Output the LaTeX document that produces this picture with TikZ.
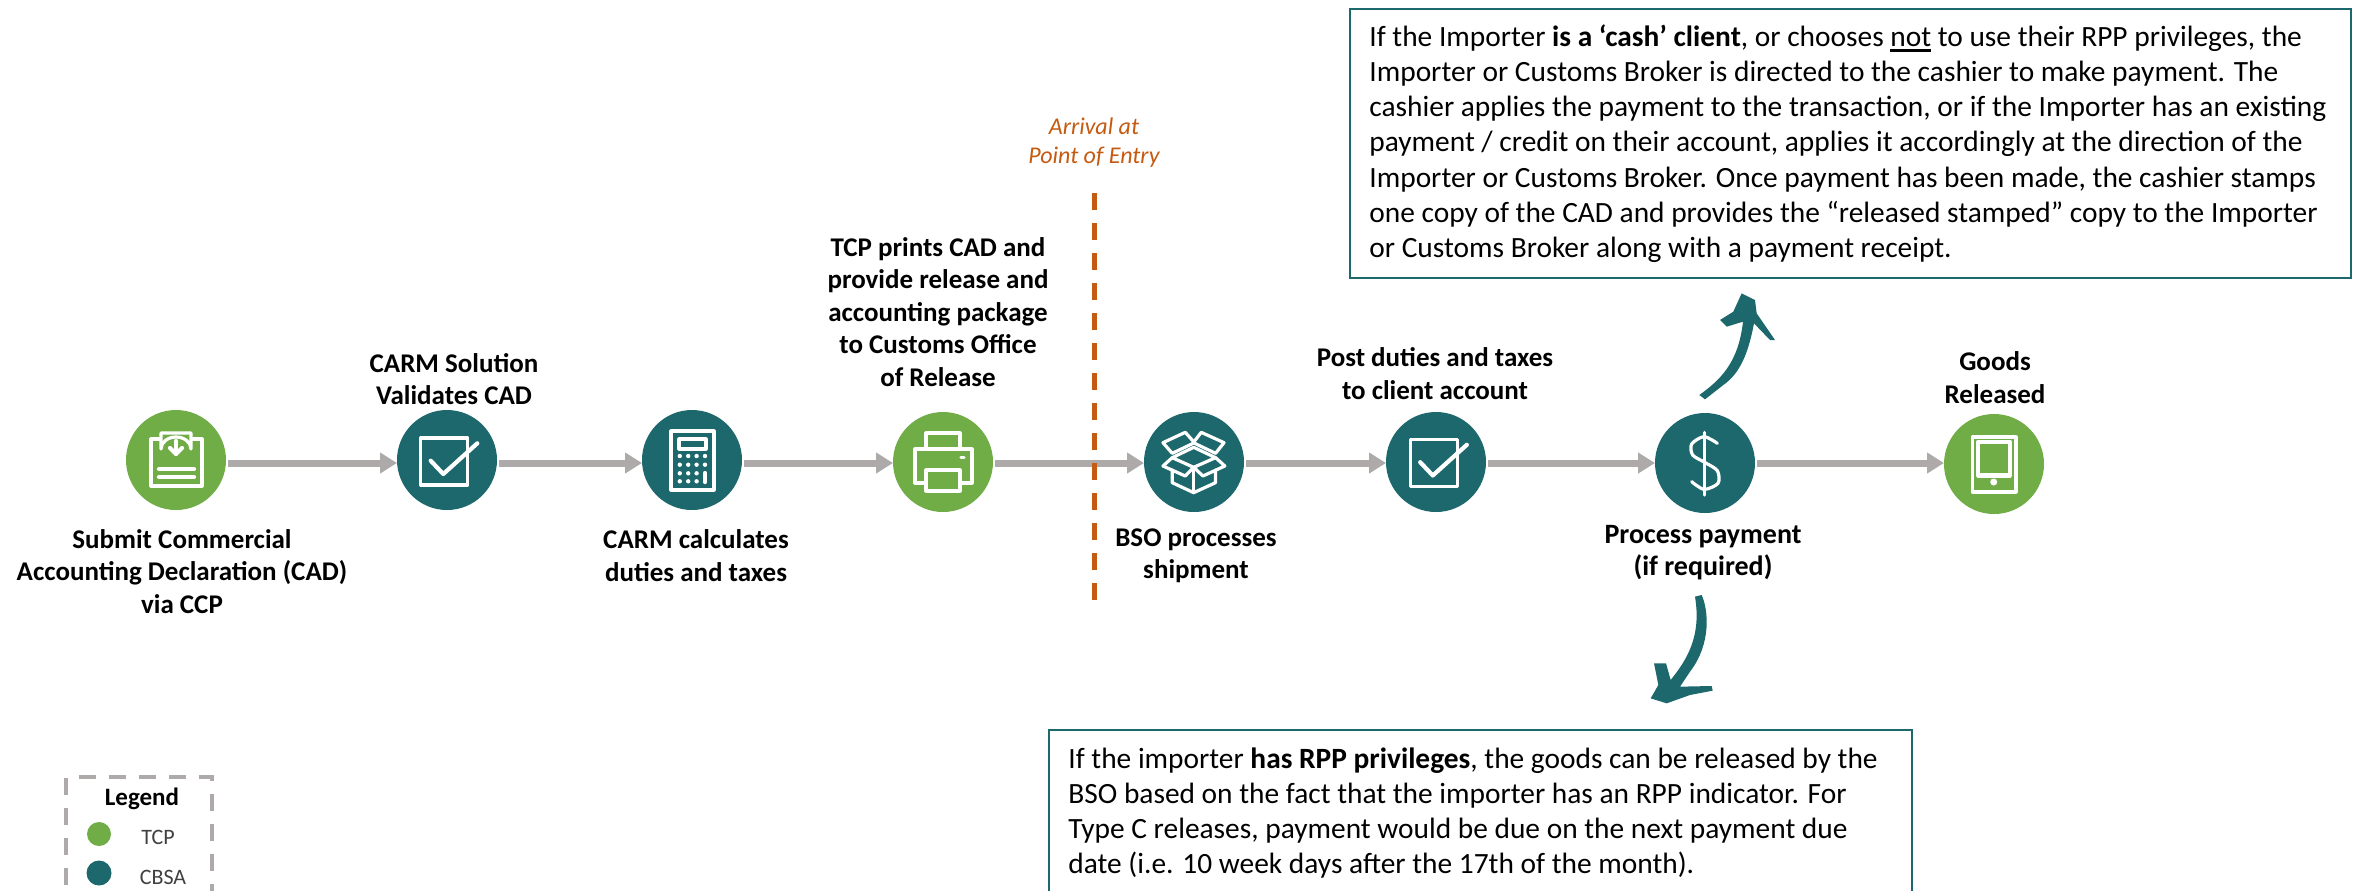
\documentclass[tikz,border=0pt]{standalone}
\usepackage{fontspec}
\setmainfont{Carlito}
\usetikzlibrary{arrows.meta,calc}
\definecolor{tcpgreen}{HTML}{70AD47}
\definecolor{cbsateal}{HTML}{1D686C}
\definecolor{flowgrey}{HTML}{AEAAAA}
\definecolor{entryorange}{HTML}{C55A11}
\newcommand{\thickul}[1]{\setbox0=\hbox{#1}\rlap{\rule[-2.6pt]{\wd0}{1.2pt}}\box0\relax}
\tikzset{
  tcpdot/.style={circle,fill=tcpgreen,minimum size=50pt,inner sep=0pt,outer sep=0pt},
  cbsadot/.style={circle,fill=cbsateal,minimum size=50pt,inner sep=0pt,outer sep=0pt},
  flow/.style={draw=flowgrey,line width=3.5pt,-{Triangle[length=8.5pt,width=10pt]},shorten <=1pt},
  steplabel/.style={align=center,inner sep=0pt,font=\fontsize{13.5}{16.2}\selectfont\bfseries,text=black},
  noteframe/.style={draw=cbsateal,line width=1.1pt,fill=white,anchor=north west,inner sep=0pt},
  notetext/.style={anchor=west,align=left,inner sep=0pt,font=\fontsize{14.7}{17.6}\selectfont,text=black},
  iconline/.style={draw=white,line width=1.6pt,line join=round,line cap=round},
  iconfat/.style={draw=white,line width=2.1pt,line join=round,line cap=round},
  legendline/.style={draw=flowgrey,line width=2pt,dash pattern=on 8.5pt off 6.5pt},
  legendtext/.style={inner sep=0pt,font=\fontsize{11}{13}\selectfont,text=black!75},
  handarrow/.style={fill=cbsateal,draw=none},
}
\newcommand{\checkicon}[2]{%
  \begin{scope}[shift={(#1,#2)}]
    \draw[iconline] (420.7,438) rectangle (467.7,485);
    \draw[iconfat] (430.7,460.7) -- (443.3,474) -- (477.3,443.3);
  \end{scope}}
\begin{document}
\begin{tikzpicture}[x=0.5pt,y=-0.5pt]
\useasboundingbox (0,0) rectangle (2356,890);
\clip (0,0) rectangle (2356,890);
\fill[white] (0,0) rectangle (2356,890);
\coordinate (flowy) at (0,463);

% step circles
\node[tcpdot]  (s1) at (176,460) {};
\node[cbsadot] (s2) at (447,460) {};
\node[cbsadot] (s3) at (692,460) {};
\node[tcpdot]  (s4) at (943,462) {};
\node[cbsadot] (s5) at (1194,462) {};
\node[cbsadot] (s6) at (1436,462) {};
\node[cbsadot] (s7) at (1705,463) {};
\node[tcpdot]  (s8) at (1994,464) {};

% flow arrows
\draw[flow] (s1.east |- flowy) -- (s2.west |- flowy);
\draw[flow] (s2.east |- flowy) -- (s3.west |- flowy);
\draw[flow] (s3.east |- flowy) -- (s4.west |- flowy);
\draw[flow] (s4.east |- flowy) -- (s5.west |- flowy);
\draw[flow] (s5.east |- flowy) -- (s6.west |- flowy);
\draw[flow] (s6.east |- flowy) -- (s7.west |- flowy);
\draw[flow] (s7.east |- flowy) -- (s8.west |- flowy);

% icon 1: document with pocket
\draw[iconline] (160,439) -- (151,439) -- (151,486) -- (202,486) -- (202,439) -- (192,439);
\draw[iconline] (161,433) -- (191,433) -- (191,449) arc[start angle=0,end angle=180,x radius=15,y radius=-12] -- cycle;
\draw[iconfat] (176,441) -- (176,454);
\draw[iconfat] (170,448) -- (176,454) -- (182,448);
\draw[iconfat] (159,469) -- (194,469);
\draw[iconfat] (159,477) -- (194,477);

% icon 2 and 6: check mark
\checkicon{0}{0}
\checkicon{989.5}{1.5}

% icon 3: calculator
\draw[iconline] (671,431) rectangle (714,490);
\draw[iconline] (679,439) rectangle (706,449);
\foreach \bx in {679.8,688.2,696.6}
  \foreach \by in {456,464.7,473.3,481.3}
    \fill[white] (\bx,\by) circle[radius=2.2];
\foreach \by in {456,464.7}
  \fill[white] (705,\by) circle[radius=2.2];
\draw[iconfat] (705,473) -- (705,482);

% icon 4: printer
\draw[iconline] (926,449) -- (926,433) -- (960,433) -- (960,449);
\draw[iconline] (915,449) rectangle (972,483);
\draw[iconline,fill=tcpgreen] (926,470) rectangle (960,491);
\draw[iconline] (961,457.3) -- (964,457.3);

% icon 5: open box
\begin{scope}[shift={(620,390)},xscale=0.4209,yscale=0.3333]
  \draw[iconline] (1290,158) -- (1343,127) -- (1365,158) -- (1312,190) -- cycle;
  \draw[iconline] (1381,127) -- (1435,158) -- (1415,190) -- (1362,158) -- cycle;
  \draw[iconline] (1363,172) -- (1415,203) -- (1363,232) -- (1312,203) -- cycle;
  \draw[iconline] (1312,203) -- (1290,228) -- (1343,258) -- (1363,232) -- (1385,258) -- (1437,228) -- (1415,203);
  \draw[iconline] (1312,240) -- (1312,278) -- (1363,308) -- (1415,278) -- (1415,240);
  \draw[iconline] (1363,232) -- (1363,308);
\end{scope}

% icon 7: dollar, and the hand-drawn arrows
\begin{scope}[shift={(1580,280)},scale=0.33333]
  \draw[iconline] plot[smooth] coordinates {(412,490) (372,470) (335,492) (338,525) (374,547) (412,572) (414,610) (372,628) (335,605)};
  \draw[iconline] (373,457) -- (373,645);
  \fill[handarrow] (358,345) .. controls (420,300) and (475,250) .. (489,125) -- (440,140) -- (420,120) -- (460,95) -- (485,40) -- (525,60) -- (530,100) -- (585,180) -- (570,180) -- (522,130) .. controls (505,220) and (480,280) .. (430,315) -- (375,358) -- cycle;
  \fill[handarrow] (345,950) -- (365,945) .. controls (385,990) and (395,1090) .. (330,1175) -- (300,1220) -- (395,1218) -- (398,1232) -- (330,1245) -- (260,1270) -- (212,1255) -- (235,1215) -- (222,1150) -- (258,1150) -- (272,1200) .. controls (320,1140) and (365,1070) .. (345,950) -- cycle;
\end{scope}

% icon 8: tablet
\draw[iconline] (1972.5,437) rectangle (2016,492);
\draw[iconfat] (1978,442) rectangle (2010,475.5);
\fill[white] (1993.7,482) circle[radius=3.5];

% entry line
\coordinate (entrytop) at (1094.5,193);
\coordinate (entrybot) at (1094.5,600);
\draw[entryorange,line width=2.5pt,dash pattern=on 8.5pt off 6.5pt] (entrytop) -- (entrybot);
\node[align=center,inner sep=0pt,text=entryorange,font=\fontsize{12}{14.5}\selectfont\itshape] (entry) at (1094,143) {Arrival at\\Point of Entry};

% step labels
\node[steplabel] (l1) at (182,571.5) {Submit Commercial\\Accounting Declaration (CAD)\\via CCP};
\node[steplabel] (l2) at (454,379) {CARM Solution\\Validates CAD};
\node[steplabel] (l3) at (696,555.5) {CARM calculates\\duties and taxes};
\node[steplabel] (l4) at (938,312) {TCP prints CAD and\\provide release and\\accounting package\\to Customs Office\\of Release};
\node[steplabel] (l5) at (1196,556) {BSO processes\\shipment};
\node[steplabel] (l6) at (1435,373.5) {Post duties and taxes\\to client account};
\node[steplabel,font=\fontsize{14}{16}\selectfont\bfseries] (l7) at (1703,552.5) {Process payment\\(if required)};
\node[steplabel] (l8) at (1995,377.5) {Goods\\Released};

% note boxes
\node[noteframe,minimum width=500.5pt,minimum height=134.5pt] (cashbox) at (1349,8) {};
\node[notetext] (cashtext) at ($(cashbox.west)+(20,0)$) {If the Importer \textbf{is a ‘cash’ client}, or chooses \thickul{not} to use their RPP privileges, the\\Importer or Customs Broker is directed to the cashier to make payment. The\\cashier applies the payment to the transaction, or if the Importer has an existing\\payment / credit on their account, applies it accordingly at the direction of the\\Importer or Customs Broker. Once payment has been made, the cashier stamps\\one copy of the CAD and provides the “released stamped” copy to the Importer\\or Customs Broker along with a payment receipt.};
\node[noteframe,minimum width=431.5pt,minimum height=83pt] (rppbox) at (1048,729) {};
\node[notetext] (rpptext) at ($(rppbox.west)+(20,0)$) {If the importer \textbf{has RPP privileges}, the goods can be released by the\\BSO based on the fact that the importer has an RPP indicator. For\\Type C releases, payment would be due on the next payment due\\date (i.e. 10 week days after the 17th of the month).};

% legend
\draw[legendline] (79,777) -- (212,777) -- (212,900);
\draw[legendline] (66,778) -- (66,900);
\node[inner sep=0pt,font=\fontsize{12.5}{14}\selectfont\bfseries,text=black] (legtitle) at (142,799) {Legend};
\node[circle,fill=tcpgreen,minimum size=12pt,inner sep=0pt] (legtcp) at (99,834) {};
\node[circle,fill=cbsateal,minimum size=12.5pt,inner sep=0pt] (legcbsa) at (99,873) {};
\node[legendtext] (tcptext) at (158,837) {TCP};
\node[legendtext] (cbsatext) at (163,877) {CBSA};
\end{tikzpicture}
\end{document}
